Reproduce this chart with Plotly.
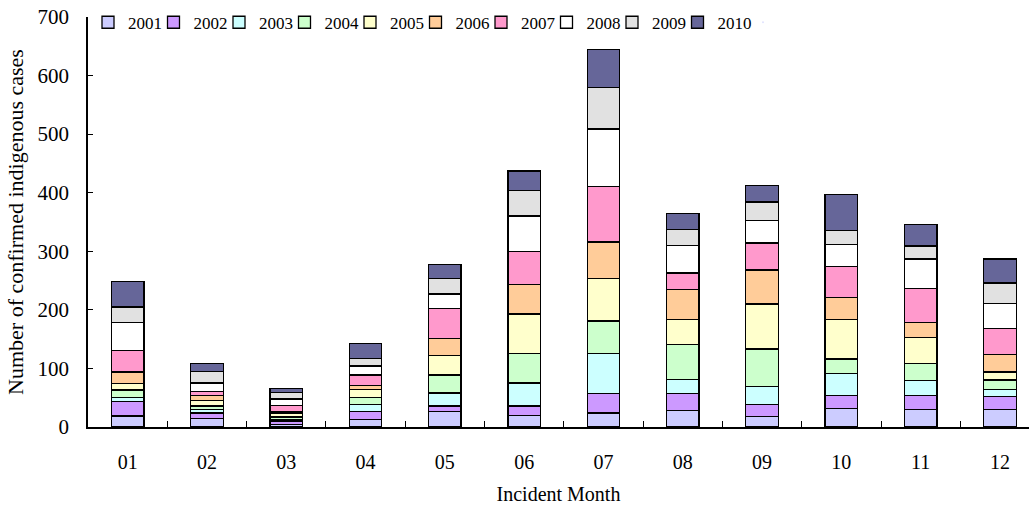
import plotly.graph_objects as go

months = ["01", "02", "03", "04", "05", "06", "07", "08", "09", "10", "11", "12"]

cases_2001 = [19, 14, 4, 13, 26, 20, 24, 28, 18, 31, 30, 30]
cases_2002 = [24, 10, 6, 14, 10, 16, 33, 29, 21, 23, 24, 22]
cases_2003 = [7, 6, 3, 12, 22, 39, 69, 24, 30, 37, 25, 12]
cases_2004 = [13, 6, 4, 11, 31, 51, 55, 60, 64, 25, 30, 16]
cases_2005 = [11, 9, 7, 14, 33, 67, 73, 43, 77, 68, 44, 14]
cases_2006 = [20, 9, 3, 7, 29, 50, 62, 51, 58, 37, 25, 30]
cases_2007 = [37, 7, 10, 18, 51, 57, 95, 28, 46, 53, 59, 44]
cases_2008 = [48, 14, 11, 15, 25, 60, 98, 47, 39, 38, 50, 43]
cases_2009 = [26, 20, 11, 13, 26, 44, 71, 27, 31, 24, 22, 35]
cases_2010 = [44, 13, 7, 25, 25, 33, 64, 28, 28, 61, 37, 41]

years = ["2001", "2002", "2003", "2004", "2005", "2006", "2007", "2008", "2009", "2010"]
series = [cases_2001, cases_2002, cases_2003, cases_2004, cases_2005,
          cases_2006, cases_2007, cases_2008, cases_2009, cases_2010]
colors = ["#CCCCFF", "#CC99FF", "#CCFFFF", "#CCFFCC", "#FFFFCC",
          "#FFCC99", "#FF99CC", "#FFFFFF", "#E1E1E1", "#666699"]

FONT = "Liberation Serif, Times New Roman, serif"

fig = go.Figure()
for year, vals, col in zip(years, series, colors):
    fig.add_trace(go.Bar(
        name=year, x=months, y=vals,
        marker=dict(color=col, line=dict(color="#000000", width=1.3)),
        width=0.41,
    ))

# invisible legend entry: widens the legend box so the last label is not clipped
fig.add_trace(go.Scatter(
    name=" ", x=[None], y=[None], mode="markers", showlegend=True,
    hoverinfo="skip", marker=dict(opacity=0, size=1),
))

W, H = 1029, 506
ml, mr, mt, mb = 88, 0, 17, 79

fig.update_layout(
    width=W, height=H,
    barmode="stack",
    plot_bgcolor="white", paper_bgcolor="white",
    margin=dict(l=ml, r=mr, t=mt, b=mb, pad=0),
    font=dict(family=FONT, color="#000000"),
    showlegend=True,
    legend=dict(
        orientation="h", x=0.0, xanchor="left", y=1.03, yanchor="top",
        font=dict(size=17, family=FONT), bgcolor="rgba(0,0,0,0)",
        itemwidth=30, traceorder="normal",
        entrywidth=20.5, entrywidthmode="pixels",
        itemclick=False, itemdoubleclick=False,
    ),
    xaxis=dict(
        type="category", range=[-0.5, 11.366],
        showline=True, linecolor="#000000", linewidth=1.5,
        ticks="inside", tickson="boundaries", ticklen=6, tickcolor="#000000",
        tickfont=dict(size=20, family=FONT), ticklabelstandoff=16,
        showgrid=False, zeroline=False,
        title=dict(text="Incident Month", font=dict(size=20, family=FONT), standoff=15),
    ),
    yaxis=dict(
        range=[0, 700], dtick=100,
        showline=True, linecolor="#000000", linewidth=1.5,
        ticks="inside", ticklen=5, tickcolor="#000000",
        tickfont=dict(size=21, family=FONT), ticklabelstandoff=13,
        showgrid=False, zeroline=False,
        title=dict(text="Number of confirmed indigenous cases",
                   font=dict(size=22, family=FONT), standoff=8),
    ),
)

fig.write_html("out.html")
